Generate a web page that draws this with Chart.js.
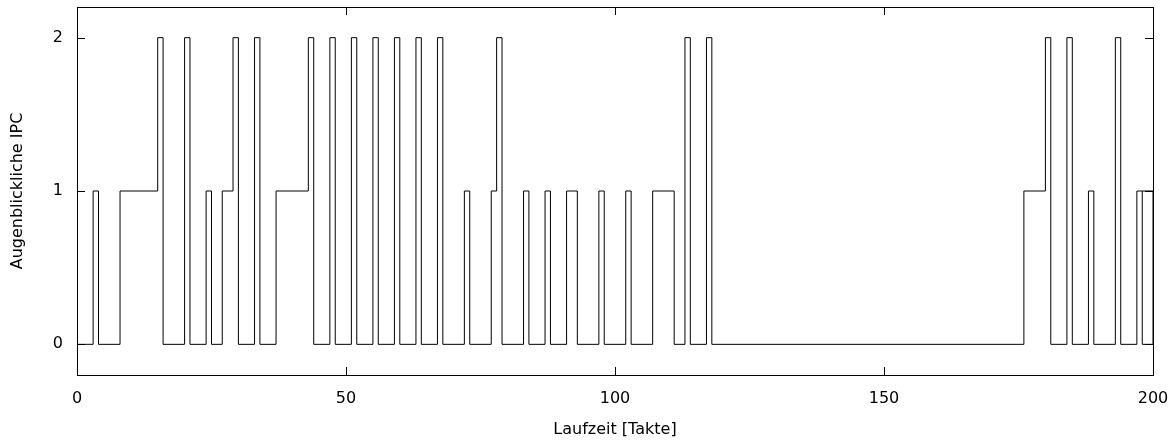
<!DOCTYPE html>
<html>
<head>
<meta charset="utf-8">
<script src="https://cdn.jsdelivr.net/npm/chart.js@4/dist/chart.umd.min.js"></script>
<style>
html,body{margin:0;padding:0;background:#fff;}
#wrap{width:1176px;height:441px;}
</style>
</head>
<body>
<div id="wrap"><canvas id="ipcChart" width="1176" height="441"></canvas></div>
<script>
// step changes: cycle at which the IPC changes and the new value
const cycles = [0,3,4,8,15,16,20,21,24,25,27,29,30,33,34,37,43,44,47,48,51,52,55,56,59,60,63,64,67,68,
  72,73,77,78,79,83,84,87,88,91,93,97,98,102,103,107,111,113,114,117,118,
  176,180,181,184,185,188,189,193,194,197,198,200,198];
const ipc = [0,1,0,1,2,0,2,0,1,0,1,2,0,2,0,1,2,0,2,0,2,0,2,0,2,0,2,0,2,0,
  1,0,1,2,0,1,0,1,0,1,0,1,0,1,0,1,0,2,0,2,0,
  1,2,0,2,0,1,0,2,0,1,0,1,1];
const xTicks = [0,50,100,150,200];
const yTicks = [0,1,2];

const points = cycles.map((c,i) => ({x:c, y:ipc[i]}));

const font = {family:"'DejaVu Sans', sans-serif", size:16};

// gnuplot style frame with inward ticks
const framePlugin = {
  id:'frame',
  afterDraw(chart){
    const {ctx, chartArea:a, scales} = chart;
    ctx.save();
    ctx.strokeStyle = '#000';
    ctx.lineWidth = 1;
    ctx.strokeRect(Math.round(a.left)+0.5, Math.round(a.top)+0.5, Math.round(a.right-a.left), Math.round(a.bottom-a.top));
    const len = 8;
    ctx.beginPath();
    xTicks.forEach(v => {
      const px = Math.round(scales.x.getPixelForValue(v))+0.5;
      ctx.moveTo(px, a.bottom); ctx.lineTo(px, a.bottom-len);
      ctx.moveTo(px, a.top); ctx.lineTo(px, a.top+len);
    });
    yTicks.forEach(v => {
      const py = Math.round(scales.y.getPixelForValue(v))+0.5;
      ctx.moveTo(a.left, py); ctx.lineTo(a.left+len, py);
      ctx.moveTo(a.right, py); ctx.lineTo(a.right-len, py);
    });
    ctx.stroke();
    ctx.restore();
  }
};

function noPad(s){
  s.paddingTop = 0; s.paddingBottom = 0; s.paddingLeft = 0; s.paddingRight = 0;
}

new Chart(document.getElementById('ipcChart'), {
  type:'line',
  data:{
    datasets:[{
      data:points,
      stepped:'before',
      borderColor:'#000',
      borderWidth:1,
      pointRadius:0,
      fill:false
    }]
  },
  options:{
    responsive:false,
    animation:false,
    layout:{padding:{top:7, right:23, left:0, bottom:0}},
    plugins:{legend:{display:false}, tooltip:{enabled:false}},
    scales:{
      x:{
        type:'linear', min:0, max:200,
        afterBuildTicks(s){ s.ticks = xTicks.map(v => ({value:v})); },
        afterFit(s){ s.height = 66; noPad(s); },
        grid:{display:false, drawTicks:false},
        border:{display:false},
        ticks:{font, color:'#000', padding:14, maxRotation:0},
        title:{display:true, text:'Laufzeit [Takte]', font, color:'#000', padding:{top:0,bottom:2}}
      },
      y:{
        type:'linear', min:-0.2, max:2.2,
        afterBuildTicks(s){ s.ticks = yTicks.map(v => ({value:v})); },
        afterFit(s){ s.width = 77; noPad(s); },
        grid:{display:false, drawTicks:false},
        border:{display:false},
        ticks:{font, color:'#000', padding:14},
        title:{display:true, text:'Augenblickliche IPC', font, color:'#000', padding:{top:8,bottom:0}}
      }
    }
  },
  plugins:[framePlugin]
});
</script>
</body>
</html>
